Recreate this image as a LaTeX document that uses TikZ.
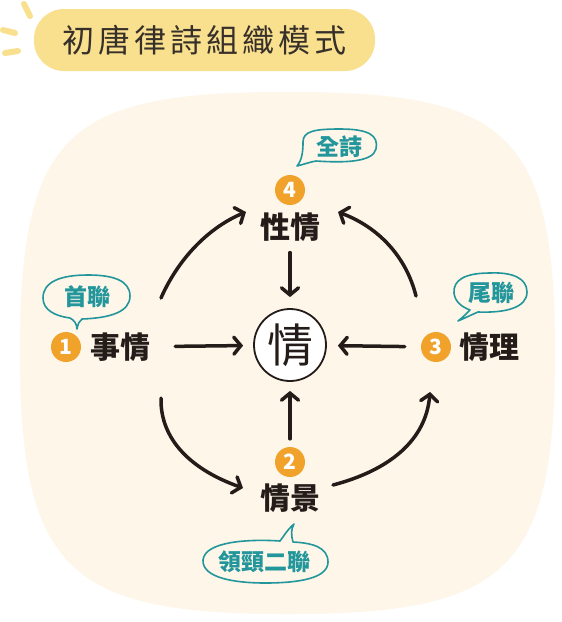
\documentclass[tikz,border=0pt]{standalone}
\usepackage{fontspec}
\newfontfamily\cjk{Noto Sans CJK TC}
\usetikzlibrary{arrows.meta}
\definecolor{cream}{RGB}{253,246,233}
\definecolor{pillc}{RGB}{249,224,142}
\definecolor{badgec}{RGB}{240,162,42}
\definecolor{tealc}{RGB}{34,150,155}
\definecolor{ink}{RGB}{35,28,25}
\definecolor{titlec}{RGB}{55,48,42}
\begin{document}
\begin{tikzpicture}[x=1pt,y=-1pt,
  arr/.style={draw=ink, line width=3.5pt, line cap=round,
    -{Straight Barb[length=7pt,width=17pt,line cap=round]}},
  lbl/.style={font=\cjk\bfseries\fontsize{30}{30}\selectfont, text=ink, inner sep=0pt},
  badge/.style={circle, fill=badgec, minimum size=30pt, inner sep=0pt, text=white,
    font=\cjk\bfseries\fontsize{21}{21}\selectfont},
  bub/.style={draw=tealc, line width=1.6pt, line join=round},
  bubtext/.style={font=\cjk\bfseries\fontsize{23}{23}\selectfont, text=tealc, inner sep=0pt},
  ray/.style={draw=pillc, line width=6pt, line cap=round}
]
\useasboundingbox (0,0) rectangle (562,622);
\fill[white] (0,0) rectangle (562,622);

% title
\draw[ray] (24,4) -- (30,16);
\draw[ray] (3,30) -- (15,33);
\draw[ray] (5,53) -- (18,51);
\fill[pillc, rounded corners=30pt] (34,9) rectangle (375,71);
\node[font=\cjk\fontsize{32}{32}\selectfont, text=titlec, inner sep=0pt] (title) at (205,40)
  {初\hspace{4pt}唐\hspace{4pt}律\hspace{4pt}詩\hspace{4pt}組\hspace{4pt}織\hspace{4pt}模\hspace{4pt}式};

% background blob
\fill[cream] (288,92) .. controls (505,92) and (555,130) .. (555,352)
  .. controls (555,572) and (505,614) .. (288,614)
  .. controls (70,614) and (20,572) .. (20,352)
  .. controls (20,130) and (70,92) .. (288,92) -- cycle;

% centre
\node[circle, draw=ink, line width=1.8pt, fill=white, minimum size=72pt, inner sep=0pt,
  font=\cjk\fontsize{46}{46}\selectfont, text=ink] (qing) at (290,345) {情};

% nodes
\node[lbl] (shiqing) at (120,347) {事情};
\node[badge] (b1) at (66,347) {1};
\node[lbl] (qingli) at (489,347) {情理};
\node[badge] (b3) at (436,347) {3};
\node[lbl] (xingqing) at (290,227) {性情};
\node[badge] (b4) at (290,190) {4};
\node[lbl] (qingjing) at (290,498) {情景};
\node[badge] (b2) at (290,462) {2};

% straight arrows
\draw[arr, shorten <=25pt, shorten >=10pt] (shiqing) -- (qing);
\draw[arr, shorten <=16pt, shorten >=11pt] (b3) -- (qing);
\draw[arr, shorten <=11pt, shorten >=11pt] (xingqing) -- (qing);
\draw[arr, shorten <=8pt, shorten >=9pt] (b2) -- (qing);

% curved arrows
\coordinate (a1s) at (161,298);
\coordinate (a1e) at (246,212);
\coordinate (a2s) at (416,296);
\coordinate (a2e) at (338,212);
\coordinate (a3s) at (161,398);
\coordinate (a3e) at (243,488);
\coordinate (a4s) at (333,485);
\coordinate (a4e) at (430,392);
\draw[arr] (a1s) .. controls (180,255) and (212,226) .. (a1e);
\draw[arr] (a2s) .. controls (406,256) and (378,227) .. (a2e);
\draw[arr] (a3s) .. controls (160,440) and (192,470) .. (a3e);
\draw[arr] (a4s) .. controls (390,470) and (426,440) .. (a4e);

% speech bubbles
\draw[bub] (316,161) .. controls (345,163) and (373,162) .. (376,149)
  .. controls (379,135) and (368,129) .. (340,129)
  .. controls (315,129) and (303,131) .. (303,142)
  .. controls (303,152) and (302,160) .. (297,166)
  .. controls (305,164) and (310,162) .. (316,161) -- cycle;
\node[bubtext] (quanshi) at (339,147) {全詩};

\draw[bub] (82,319) .. controls (110,318) and (130,312) .. (130,296)
  .. controls (130,280) and (112,275) .. (88,275)
  .. controls (60,275) and (43,282) .. (43,298)
  .. controls (43,310) and (55,316) .. (70,318)
  .. controls (74,320) and (77,324) .. (77,329)
  .. controls (78,324) and (79,321) .. (82,319) -- cycle;
\node[bubtext] (shoulian) at (87,297) {首聯};

\draw[bub] (478,312) .. controls (505,313) and (527,308) .. (527,292)
  .. controls (527,278) and (512,272) .. (490,273)
  .. controls (465,273) and (453,280) .. (454,293)
  .. controls (455,302) and (462,307) .. (470,310)
  .. controls (466,314) and (462,318) .. (458,321)
  .. controls (465,318) and (471,315) .. (478,312) -- cycle;
\node[bubtext] (weilian) at (491,293) {尾聯};

\draw[bub] (280,541) .. controls (250,539) and (205,541) .. (203,560)
  .. controls (202,578) and (235,583) .. (265,583)
  .. controls (300,583) and (328,578) .. (328,562)
  .. controls (328,547) and (312,543) .. (293,542)
  .. controls (291,535) and (291,529) .. (294,524)
  .. controls (287,530) and (284,536) .. (280,541) -- cycle;
\node[bubtext] (hanjing) at (264,562) {領頸二聯};
\end{tikzpicture}
\end{document}
